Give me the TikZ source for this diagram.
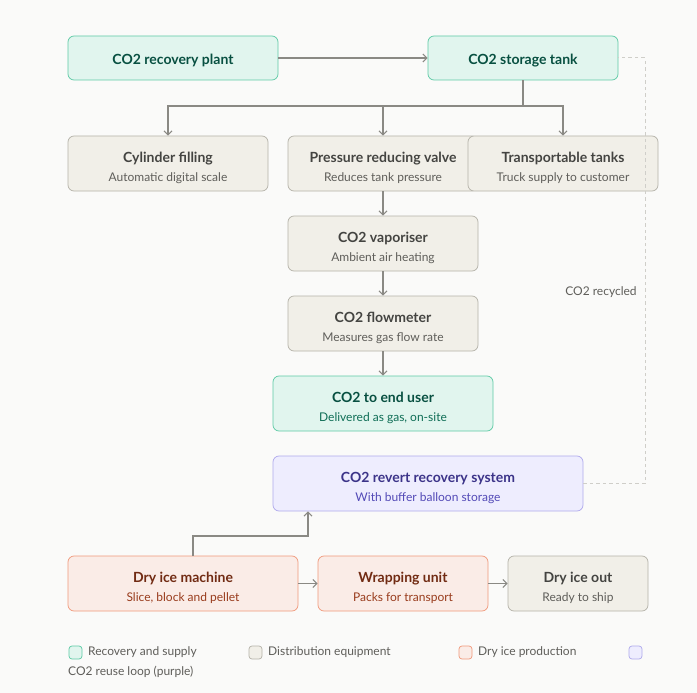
\documentclass[tikz,border=0pt]{standalone}
\usepackage{fontspec}
\setmainfont{Lato}
\usetikzlibrary{arrows.meta,positioning}
\definecolor{bg}{HTML}{FAFAF9}
\definecolor{gfill}{HTML}{E1F5EE}\definecolor{gdraw}{HTML}{5DCAA5}\definecolor{gtext}{HTML}{085041}\definecolor{gsub}{HTML}{0F6E56}
\definecolor{nfill}{HTML}{F1EFE8}\definecolor{ndraw}{HTML}{B4B2A9}\definecolor{ntext}{HTML}{444441}\definecolor{nsub}{HTML}{5F5E5A}
\definecolor{cfill}{HTML}{FAECE7}\definecolor{cdraw}{HTML}{F0997B}\definecolor{ctext}{HTML}{712B13}\definecolor{csub}{HTML}{993C1D}
\definecolor{pfill}{HTML}{EEEDFE}\definecolor{pdraw}{HTML}{AFA9EC}\definecolor{ptext}{HTML}{3C3489}\definecolor{psub}{HTML}{534AB7}
\definecolor{arr}{HTML}{8A8984}
\definecolor{dashcol}{HTML}{CFCEC9}
\tikzset{
  box/.style={rectangle,rounded corners=6pt,line width=0.7pt,inner sep=0pt,align=center},
  green/.style={box,fill=gfill,draw=gdraw,text=gtext},
  gray/.style={box,fill=nfill,draw=ndraw,text=ntext},
  coral/.style={box,fill=cfill,draw=cdraw,text=ctext},
  purple/.style={box,fill=pfill,draw=pdraw,text=ptext},
  conn/.style={draw=arr,line width=1.1pt,-{Straight Barb[length=4pt,width=8pt,line width=1.1pt]}},
  recyc/.style={draw=dashcol,line width=1pt,dash pattern=on 3.5pt off 3pt},
  leg/.style={rectangle,rounded corners=3pt,line width=0.7pt,minimum width=13pt,minimum height=13pt,inner sep=0pt},
  legtext/.style={anchor=west,text=nsub,font=\fontsize{12}{14}\selectfont,inner sep=0pt}
}
\newcommand{\ttl}[1]{{\fontsize{14}{17}\selectfont\bfseries #1}}
\newcommand{\sbt}[2]{{\fontsize{12}{15}\selectfont\color{#1}#2}}
\newcommand{\one}[1]{\raisebox{0pt}[\dimexpr\height+5pt][\depth]{\ttl{#1}}}
\newcommand{\two}[3]{\raisebox{0pt}[\dimexpr\height+10pt][\depth]{\begin{tabular}{@{}c@{}}\ttl{#1}\\[7pt]\sbt{#2}{#3}\end{tabular}}}
\begin{document}
\begin{tikzpicture}[x=1pt,y=-1pt]
\fill[bg] (0,0) rectangle (697,693);
\useasboundingbox (0,0) rectangle (697,693);
% nodes
\node[green,minimum width=210pt,minimum height=44pt] (plant) at (173,58) {\one{CO2 recovery plant}};
\node[green,minimum width=190pt,minimum height=44pt] (tank) at (523,58) {\one{CO2 storage tank}};
\node[gray,minimum width=200pt,minimum height=55pt] (cyl) at (168,163.5) {\two{Cylinder filling}{nsub}{Automatic digital scale}};
\node[gray,minimum width=190pt,minimum height=55pt] (valve) at (383,163.5) {\two{Pressure reducing valve}{nsub}{Reduces tank pressure}};
\node[gray,minimum width=190pt,minimum height=55pt] (trans) at (563,163.5) {\two{Transportable tanks}{nsub}{Truck supply to customer}};
\node[gray,minimum width=190pt,minimum height=55pt] (vap) at (383,243.5) {\two{CO2 vaporiser}{nsub}{Ambient air heating}};
\node[gray,minimum width=190pt,minimum height=55pt] (flow) at (383,323.5) {\two{CO2 flowmeter}{nsub}{Measures gas flow rate}};
\node[green,minimum width=220pt,minimum height=55pt] (user) at (383,403.5) {\two{CO2 to end user}{gsub}{Delivered as gas, on-site}};
\node[purple,minimum width=310pt,minimum height=55pt] (revert) at (428,483.5) {\two{CO2 revert recovery system}{psub}{With buffer balloon storage}};
\node[coral,minimum width=230pt,minimum height=55pt] (dim) at (183,583.5) {\two{Dry ice machine}{csub}{Slice, block and pellet}};
\node[coral,minimum width=170pt,minimum height=55pt] (wrap) at (403,583.5) {\two{Wrapping unit}{csub}{Packs for transport}};
\node[gray,minimum width=140pt,minimum height=55pt] (out) at (578,583.5) {\two{Dry ice out}{nsub}{Ready to ship}};
% connectors
\draw[conn] (plant) -- (tank);
\coordinate (split) at (523,106);
\draw[draw=arr,line width=1.1pt] (tank.south) -- (split);
\draw[conn] (split) -| (cyl.north);
\draw[conn] (split) -| (valve.north);
\draw[conn] (split) -| (trans.north);
\draw[conn] (valve) -- (vap);
\draw[conn] (vap) -- (flow);
\draw[conn] (flow) -- (user);
\coordinate (up1) at (193,536);
\coordinate (up2) at (308,536);
\draw[conn] (dim.north -| up1) -- (up1) -- (up2) -- (revert.south -| up2);
\draw[conn] (dim) -- (wrap);
\draw[conn] (wrap) -- (out);
\coordinate (rc) at (645,483.5);
\coordinate (rt) at (645,58);
\draw[recyc] (revert.east) -- (rc) -- (rt) -- (tank.east);
\node[text=nsub,font=\fontsize{12}{14}\selectfont] (lbl) at (601,292) {CO2 recycled};
% legend
\node[leg,fill=gfill,draw=gdraw] (l1) at (75.5,652.5) {};
\node[legtext] (l1t) at (88,652.5) {Recovery and supply};
\node[leg,fill=nfill,draw=ndraw] (l2) at (255.5,652.5) {};
\node[legtext] (l2t) at (268,652.5) {Distribution equipment};
\node[leg,fill=cfill,draw=cdraw] (l3) at (465.5,652.5) {};
\node[legtext] (l3t) at (478,652.5) {Dry ice production};
\node[leg,fill=pfill,draw=pdraw] (l4) at (635.5,652.5) {};
\node[legtext] (l4t) at (68,671.5) {CO2 reuse loop (purple)};
\end{tikzpicture}
\end{document}
